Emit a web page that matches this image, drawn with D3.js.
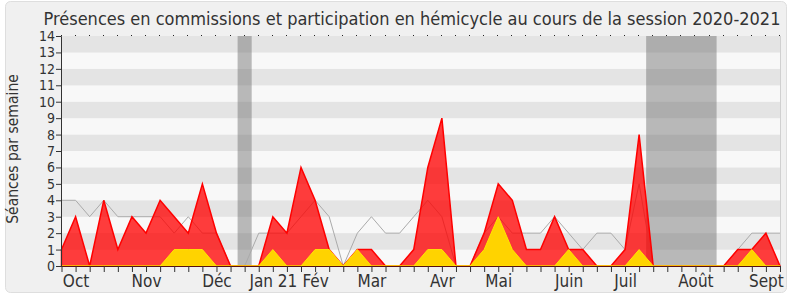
<!DOCTYPE html>
<html>
<head>
<meta charset="utf-8">
<script src="https://cdn.jsdelivr.net/npm/d3@7"></script>
<style>
  body { margin: 0; background: #ffffff; }
  text { font-family: "DejaVu Sans Condensed", "DejaVu Sans", sans-serif; fill: #333; }
</style>
</head>
<body>
<div id="chart"></div>
<script>
// weekly values, session 2020-2021 (52 weeks)
var presences = [1,3,0,4,1,3,2,4,3,2,5,2,0,0,0,3,2,6,4,1,0,1,1,0,0,1,6,9,0,0,2,5,4,1,1,3,1,1,0,0,1,8,0,0,0,0,0,0,1,1,2,0];
var interventions = [0,0,0,0,0,0,0,0,1,1,1,0,0,0,0,1,0,0,1,1,0,1,0,0,0,0,1,1,0,0,1,3,1,0,0,0,1,0,0,0,0,1,0,0,0,0,0,0,0,1,0,0];
var median = [4,4,3,4,3,3,3,3,2,3,2,2,0,0,2,2,2,3,4,3,0,2,3,2,2,3,4,3,0,0,2,3,2,2,2,3,2,1,2,2,1,5,0,0,0,0,0,0,1,2,2,2];
var monthLabels = ["Oct","Nov","Déc","Jan 21","Fév","Mar","Avr","Mai","Juin","Juil","Août","Sept"];
var monthWeeks = [1,6,11,15,18,22,27,31,36,40,45,50];
var vacations = [[12.5,13.5],[41.5,46.5]];
var yTicks = d3.range(0, 15);

var width = 790, height = 300;
var plotLeft = 61, plotRight = 780, plotTop = 36, plotBottom = 266;

var svg = d3.select("#chart").append("svg")
            .attr("width", width)
            .attr("height", height);

// outer frame
svg.append("rect")
   .attr("x", 5.5).attr("y", 1.5)
   .attr("width", 781).attr("height", 291)
   .attr("rx", 5)
   .attr("fill", "#f0f0f0")
   .attr("stroke", "#dedede");

var x = d3.scaleLinear().domain([0, 51]).range([plotLeft + 0.5, plotRight]);
var y = d3.scaleLinear().domain([0, 14]).range([plotBottom, plotTop]);

// alternating horizontal bands
svg.selectAll("rect.band")
   .data(d3.range(0, 14))
   .enter()
   .append("rect")
   .attr("class", "band")
   .attr("x", plotLeft)
   .attr("y", function(d) { return y(d + 1); })
   .attr("width", plotRight - plotLeft)
   .attr("height", function(d) { return y(d) - y(d + 1); })
   .attr("fill", function(d) { return d % 2 == 1 ? "#e4e4e4" : "#f8f8f8"; });

svg.append("line")
   .attr("x1", plotRight + 0.5).attr("x2", plotRight + 0.5)
   .attr("y1", plotTop).attr("y2", plotBottom)
   .attr("stroke", "#d0d0d0");

// vacation periods
svg.selectAll("rect.vac")
   .data(vacations)
   .enter()
   .append("rect")
   .attr("class", "vac")
   .attr("x", function(d) { return x(d[0]); })
   .attr("y", plotTop)
   .attr("width", function(d) { return x(d[1]) - x(d[0]); })
   .attr("height", plotBottom - plotTop)
   .attr("fill", "rgb(106,106,106)")
   .attr("fill-opacity", 0.45);

// median line
var line = d3.line()
             .x(function(d, i) { return x(i); })
             .y(function(d) { return y(d); });

svg.append("path")
   .datum(median)
   .attr("d", line)
   .attr("fill", "none")
   .attr("stroke", "#aaaaaa")
   .attr("stroke-width", 1);

var area = d3.area()
             .x(function(d, i) { return x(i); })
             .y0(y(0))
             .y1(function(d) { return y(d); });

svg.append("path")
   .datum(presences)
   .attr("d", area)
   .attr("fill", "#ff0000")
   .attr("fill-opacity", 0.76)
   .attr("stroke", "#ff0000")
   .attr("stroke-width", 1.5);

svg.append("path")
   .datum(interventions)
   .attr("d", area)
   .attr("fill", "#ffd300")
   .attr("stroke", "#ffe600")
   .attr("stroke-width", 1);

// x axis
var xAxis = d3.axisBottom(x)
              .tickValues(d3.range(0, 52))
              .tickSize(6)
              .tickFormat(function(d) {
                var k = monthWeeks.indexOf(d);
                return k >= 0 ? monthLabels[k] : "";
              });

var gx = svg.append("g")
            .attr("transform", "translate(0," + plotBottom + ")")
            .call(xAxis);
gx.select(".domain").attr("stroke", "#5a1010").attr("d", "M" + plotLeft + ",0.5H" + plotRight);
gx.selectAll(".tick line").attr("stroke", "#333");
gx.selectAll(".tick text")
  .attr("y", 9)
  .attr("font-size", "17px")
  .attr("font-family", "DejaVu Sans Condensed, DejaVu Sans, sans-serif")
  .attr("fill", "#333");

// dotted ticks along the top
svg.selectAll("rect.dot")
   .data(d3.range(0, 52))
   .enter()
   .append("rect")
   .attr("class", "dot")
   .attr("x", function(d) { return Math.round(x(d)) - 1; })
   .attr("y", plotTop - 1)
   .attr("width", 1)
   .attr("height", 1)
   .attr("fill", "#222");

// y axis
var yAxis = d3.axisLeft(y).tickValues(yTicks).tickSize(5).tickFormat(d3.format("d"));
var gy = svg.append("g")
            .attr("transform", "translate(" + plotLeft + ",0)")
            .call(yAxis);
gy.select(".domain").attr("stroke", "#333");
gy.selectAll(".tick line").attr("stroke", "#333");
gy.selectAll(".tick text")
  .attr("x", -6)
  .attr("font-size", "14px")
  .attr("font-family", "DejaVu Sans Condensed, DejaVu Sans, sans-serif")
  .attr("fill", "#333");

// y axis title
svg.append("text")
   .attr("transform", "translate(18,149) rotate(-90)")
   .attr("text-anchor", "middle")
   .attr("font-size", "15.5px")
   .text("Séances par semaine");

// chart title
svg.append("text")
   .attr("x", 412)
   .attr("y", 25)
   .attr("text-anchor", "middle")
   .attr("font-size", "18px")
   .text("Présences en commissions et participation en hémicycle au cours de la session 2020-2021");
</script>
</body>
</html>
